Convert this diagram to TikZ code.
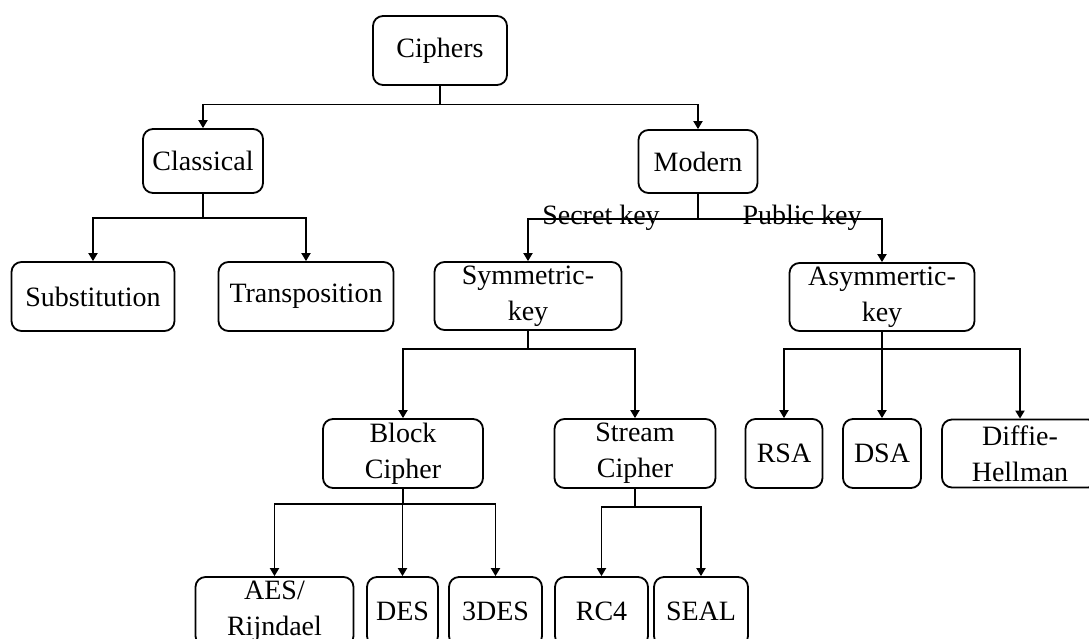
\documentclass[tikz,border=0pt]{standalone}
\usepackage{fontspec}
\setmainfont{Liberation Serif}
\usetikzlibrary{arrows.meta}
\begin{document}
\begin{tikzpicture}[x=1pt,y=-1pt,
  box/.style={draw,line width=1.8pt,rounded corners=10pt,inner sep=0pt,
    align=center,font=\fontsize{28}{36}\selectfont},
  arr/.style={line width=1.8pt,-{Triangle[length=8pt,width=9pt]}},
  tag/.style={inner sep=0pt,font=\fontsize{28}{36}\selectfont}]
\path[use as bounding box] (0,0) rectangle (1089,638);
\clip (0,0) rectangle (1089,638);

% root and first level
\node[box,minimum width=134pt,minimum height=69pt] (ciphers) at (440,50.5) {Ciphers};
\node[box,minimum width=120pt,minimum height=64pt] (classical) at (203,161) {Classical};
\node[box,minimum width=119pt,minimum height=63pt] (modern) at (698,161.5) {Modern};

% second level
\node[box,minimum width=163pt,minimum height=69pt] (subst) at (93,296.5) {Substitution};
\node[box,minimum width=175pt,minimum height=69pt] (transp) at (306,296.5) {Transposition};
\node[box,minimum width=187pt,minimum height=68pt] (symm) at (528,296) {Symmetric-\\key};
\node[box,minimum width=185pt,minimum height=68pt] (asymm) at (882,297) {Asymmertic-\\key};

% third level
\node[box,minimum width=160pt,minimum height=69pt] (block) at (403,453.5) {Block\\Cipher};
\node[box,minimum width=161pt,minimum height=69pt] (stream) at (635,453.5) {Stream\\Cipher};
\node[box,minimum width=77pt,minimum height=69pt] (rsa) at (784,453.5) {RSA};
\node[box,minimum width=78pt,minimum height=69pt] (dsa) at (882,453.5) {DSA};
\node[box,minimum width=156pt,minimum height=68pt] (dh) at (1020,453.5) {Diffie-\\Hellman};

% leaves
\node[box,minimum width=158pt,minimum height=69pt] (aes) at (274.5,611.5) {AES/\\Rijndael};
\node[box,minimum width=71pt,minimum height=69pt] (des) at (402.5,611.5) {DES};
\node[box,minimum width=93pt,minimum height=69pt] (tdes) at (495.5,611.5) {3DES};
\node[box,minimum width=93pt,minimum height=69pt] (rc4) at (601.5,611.5) {RC4};
\node[box,minimum width=94pt,minimum height=69pt] (seal) at (701,611.5) {SEAL};

% connectors
\draw[arr] (ciphers.south) -- ++(0,18.5) -| (classical.north);
\draw[arr] (ciphers.south) -- ++(0,18.5) -| (modern.north);

\draw[arr] (classical.south) -- ++(0,24) -| (subst.north);
\draw[arr] (classical.south) -- ++(0,24) -| (transp.north);

\draw[arr] (modern.south) -- ++(0,25) -| (symm.north);
\draw[arr] (modern.south) -- ++(0,25) -| (asymm.north);

\draw[arr] (symm.south) -- ++(0,18) -| (block.north);
\draw[arr] (symm.south) -- ++(0,18) -| (stream.north);

\draw[arr] (asymm.south) -- ++(0,17) -| (rsa.north);
\draw[arr] (asymm.south) -- ++(0,17) -| (dsa.north);
\draw[arr] (asymm.south) -- ++(0,17) -| (dh.north);

\draw[arr] (block.south) -- ++(0,15) -| (aes.north);
\draw[arr] (block.south) -- ++(0,15) -| (des.north);
\draw[arr] (block.south) -- ++(0,15) -| (tdes.north);

\draw[arr] (stream.south) -- ++(0,18) -| (rc4.north);
\draw[arr] (stream.south) -- ++(0,18) -| (seal.north);

% branch labels written over the bus line
\node[tag] (secret) at (601,218) {Secret key};
\node[tag] (public) at (802,218) {Public key};
\end{tikzpicture}
\end{document}
